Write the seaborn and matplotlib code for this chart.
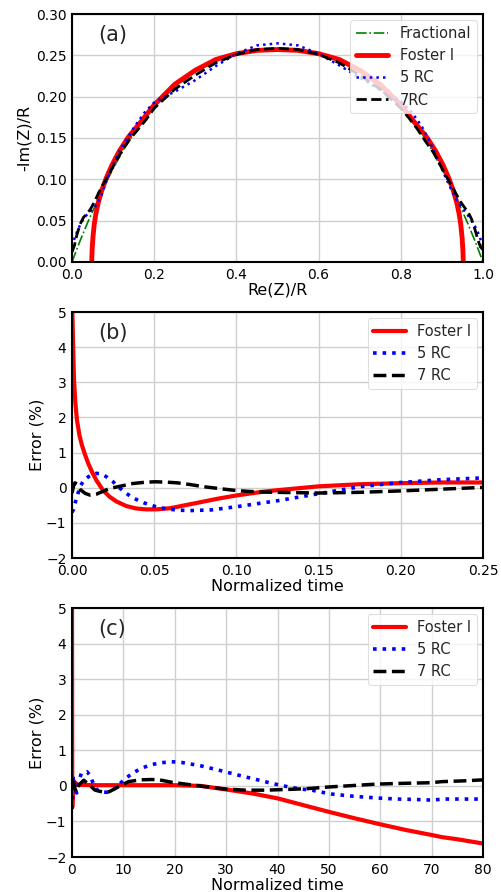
import matplotlib
matplotlib.use("Agg")
import matplotlib.pyplot as plt
import seaborn as sns
import pandas as pd

# ---------------- Panel (a): Nyquist -----------------
frac_x = [0.0, 0.01, 0.02, 0.03, 0.04, 0.05, 0.06, 0.08, 0.10, 0.13, 0.16, 0.20, 0.25, 0.30, 0.35, 0.40, 0.45,
          0.50, 0.55, 0.60, 0.65, 0.70, 0.75, 0.80, 0.84, 0.87, 0.90, 0.92, 0.94, 0.95, 0.96, 0.97, 0.98, 0.99, 1.0]
frac_y = [0.0, 0.013, 0.026, 0.038, 0.050, 0.061, 0.072, 0.093, 0.113, 0.140, 0.162, 0.188, 0.212, 0.230, 0.243, 0.252, 0.256,
          0.258, 0.256, 0.252, 0.243, 0.230, 0.212, 0.188, 0.162, 0.140, 0.113, 0.093, 0.072, 0.061, 0.050, 0.038, 0.026, 0.013, 0.0]

foster_x = [0.048, 0.049, 0.051, 0.054, 0.058, 0.064, 0.072, 0.083, 0.097, 0.115, 0.137, 0.165, 0.20, 0.25, 0.30, 0.35, 0.40, 0.45,
            0.50, 0.55, 0.60, 0.65, 0.70, 0.75, 0.80, 0.835, 0.863, 0.885, 0.903, 0.917, 0.928, 0.936, 0.942, 0.946, 0.949, 0.951, 0.952]
foster_y = [0.000, 0.015, 0.030, 0.045, 0.058, 0.072, 0.086, 0.101, 0.117, 0.134, 0.151, 0.168, 0.190, 0.215, 0.232, 0.245, 0.252, 0.256,
            0.257, 0.256, 0.252, 0.245, 0.232, 0.215, 0.190, 0.168, 0.151, 0.134, 0.117, 0.101, 0.086, 0.072, 0.058, 0.045, 0.030, 0.015, 0.000]

rc5_x = [0.0, 0.005, 0.011, 0.018, 0.024, 0.032, 0.042, 0.055, 0.065, 0.072, 0.08, 0.09, 0.10, 0.117, 0.135, 0.15, 0.175, 0.20,
         0.225, 0.25, 0.275, 0.30, 0.35, 0.40, 0.45, 0.50, 0.55, 0.60, 0.65, 0.70, 0.725, 0.75, 0.775, 0.80, 0.825, 0.85,
         0.87, 0.89, 0.91, 0.93, 0.945, 0.958, 0.968, 0.976, 0.984, 0.99, 0.995, 1.0]
rc5_y = [0.019, 0.027, 0.035, 0.043, 0.049, 0.055, 0.060, 0.066, 0.074, 0.081, 0.093, 0.106, 0.118, 0.135, 0.150, 0.162, 0.180, 0.193,
         0.200, 0.206, 0.213, 0.220, 0.237, 0.252, 0.262, 0.2645, 0.262, 0.252, 0.238, 0.223, 0.216, 0.208, 0.200, 0.194, 0.182, 0.165,
         0.146, 0.124, 0.101, 0.080, 0.068, 0.060, 0.053, 0.047, 0.040, 0.033, 0.026, 0.019]

rc7_x = [0.0, 0.006, 0.012, 0.02, 0.028, 0.036, 0.045, 0.055, 0.065, 0.078, 0.09, 0.105, 0.12, 0.14, 0.16, 0.18, 0.20,
         0.25, 0.30, 0.35, 0.40, 0.45, 0.50, 0.55, 0.60, 0.65, 0.70, 0.75, 0.80, 0.82, 0.84, 0.86, 0.88, 0.895, 0.91,
         0.922, 0.935, 0.945, 0.955, 0.964, 0.972, 0.98, 0.988, 0.994, 1.0]
rc7_y = [0.012, 0.020, 0.033, 0.046, 0.054, 0.058, 0.064, 0.073, 0.084, 0.096, 0.106, 0.120, 0.133, 0.148, 0.160, 0.172, 0.186,
         0.209, 0.226, 0.241, 0.251, 0.257, 0.2585, 0.257, 0.251, 0.241, 0.226, 0.209, 0.186, 0.174, 0.161, 0.146, 0.132, 0.118, 0.104,
         0.094, 0.082, 0.073, 0.066, 0.060, 0.052, 0.040, 0.026, 0.018, 0.015]

# ---------------- Panel (b): error, short time -----------------
b_foster_t = [0.0, 0.0006, 0.0012, 0.002, 0.003, 0.0045, 0.006, 0.008, 0.010, 0.0125,
              0.015, 0.019, 0.023, 0.027, 0.033, 0.039, 0.045, 0.0515, 0.06, 0.075,
              0.09, 0.10, 0.115, 0.125, 0.15, 0.175, 0.20, 0.225, 0.25]
b_foster_e = [5.5, 4.2, 3.1, 2.45, 1.93, 1.5, 1.22, 0.93, 0.68, 0.42,
              0.2, -0.08, -0.26, -0.39, -0.52, -0.59, -0.615, -0.615, -0.58, -0.44,
              -0.30, -0.22, -0.12, -0.07, 0.04, 0.10, 0.13, 0.15, 0.15]

b_rc5_t = [0.0, 0.0008, 0.002, 0.003, 0.0049, 0.007, 0.0099, 0.0125, 0.015, 0.018,
           0.021, 0.025, 0.028, 0.032, 0.036, 0.042, 0.0474, 0.0535, 0.0596, 0.066,
           0.072, 0.085, 0.10, 0.125, 0.15, 0.175, 0.20, 0.225, 0.25]
b_rc5_e = [-0.7, -0.63, -0.42, -0.26, 0.03, 0.20, 0.31, 0.38, 0.41, 0.39,
           0.31, 0.17, 0.03, -0.12, -0.26, -0.40, -0.49, -0.57, -0.615, -0.64,
           -0.65, -0.63, -0.54, -0.37, -0.17, 0.03, 0.15, 0.23, 0.28]

b_rc7_t = [0.0, 0.0004, 0.001, 0.0018, 0.003, 0.005, 0.008, 0.011, 0.015, 0.019,
           0.023, 0.03, 0.037, 0.044, 0.0505, 0.057, 0.064, 0.072, 0.080, 0.089,
           0.098, 0.106, 0.114, 0.125, 0.15, 0.175, 0.20, 0.225, 0.25]
b_rc7_e = [-0.15, -0.07, 0.06, 0.14, 0.10, -0.05, -0.16, -0.21, -0.18, -0.10,
           -0.02, 0.05, 0.12, 0.155, 0.17, 0.16, 0.14, 0.09, 0.03, -0.02,
           -0.07, -0.10, -0.12, -0.13, -0.15, -0.13, -0.09, -0.04, 0.01]

# ---------------- Panel (c): error, long time -----------------
c_foster_t = [0.0, 0.05, 0.25, 1, 5, 10, 15, 20, 25,
              30, 35, 40, 45, 50, 55, 60, 65, 70, 72, 75, 80]
c_foster_e = [5.5, -0.6, 0.15, 0.03, 0.02, 0.02, 0.02, 0.02, 0.0,
              -0.10, -0.21, -0.35, -0.54, -0.73, -0.91, -1.08, -1.24, -1.38, -1.44, -1.50, -1.62]

c_rc5_t = [0.0, 0.25, 0.5, 0.9, 1.3, 1.8, 2.4, 2.9, 3.5,
           4.0, 4.9, 5.8, 6.8, 7.7, 8.8, 10.0, 11.7, 13.3, 15.2,
           17.3, 19.4, 21.3, 23.3, 25.2, 27.2, 29.2, 31.1, 33.0, 35.0,
           37.0, 38.9, 40.9, 42.8, 44.7, 46.7, 48.7, 50.6, 52.6, 54.7,
           57.5, 60.5, 63.5, 66.4, 70.3, 72.0, 76.0, 80.0]
c_rc5_e = [-0.65, 0.28, -0.05, -0.2, 0.1, 0.35, 0.38, 0.40, 0.30,
           0.12, -0.12, -0.17, -0.18, -0.14, -0.02, 0.16, 0.35, 0.48, 0.59,
           0.65, 0.68, 0.66, 0.61, 0.56, 0.49, 0.42, 0.35, 0.28, 0.21,
           0.14, 0.07, 0.01, -0.05, -0.09, -0.12, -0.18, -0.23, -0.26, -0.29,
           -0.32, -0.35, -0.37, -0.38, -0.40, -0.37, -0.37, -0.37]

c_rc7_t = [0.0, 0.3, 0.8, 1.3, 2.3, 3.2, 4.5, 6.2, 7.3, 9.1,
           11.0, 13.3, 15.5, 17.0, 19.5, 22.1, 26.0, 29.9, 33.8, 37.7,
           41.6, 45.5, 50.0, 54.7, 59.2, 63.8, 69.9, 72.0, 76.0, 80.0]
c_rc7_e = [0.2, 0.05, -0.16, 0.02, 0.16, 0.05, -0.12, -0.18, -0.16, -0.02,
           0.12, 0.17, 0.18, 0.17, 0.10, 0.05, -0.02, -0.09, -0.12, -0.12,
           -0.10, -0.08, -0.03, 0.01, 0.05, 0.07, 0.09, 0.12, 0.14, 0.17]

# ---------------- Styling -----------------
sns.set_style("whitegrid")
plt.rcParams['font.family'] = ['DejaVu Sans']
plt.rcParams.update({
    "axes.edgecolor": "black",
    "axes.linewidth": 1.5,
    "grid.color": "#cfcfcf",
    "grid.linewidth": 1.0,
    "xtick.labelsize": 10,
    "ytick.labelsize": 10,
    "axes.labelsize": 11.5,
    "xtick.color": "black",
    "ytick.color": "black",
    "axes.labelcolor": "black",
})

fig = plt.figure(figsize=(5.01, 8.92), dpi=100)
ax_a = fig.add_axes([0.1437, 0.7063, 0.8204, 0.278])
ax_b = fig.add_axes([0.1437, 0.3744, 0.8204, 0.2758])
ax_c = fig.add_axes([0.1437, 0.0392, 0.8204, 0.2791])


def line(ax, x, y, **kw):
    df = pd.DataFrame({"x": x, "y": y})
    sns.lineplot(data=df, x="x", y="y", ax=ax, sort=False, estimator=None, **kw)


# (a)
line(ax_a, frac_x, frac_y, color="green", linestyle="-.", linewidth=1.2, label="Fractional")
line(ax_a, foster_x, foster_y, color="red", linestyle="-", linewidth=3.5, label="Foster I")
line(ax_a, rc5_x, rc5_y, color="blue", linestyle=":", linewidth=1.8, label="5 RC")
line(ax_a, rc7_x, rc7_y, color="black", linestyle="--", linewidth=2.0, label="7RC")
ax_a.set_xlim(0, 1.0)
ax_a.set_ylim(0, 0.30)
ax_a.set_xticks([0.0, 0.2, 0.4, 0.6, 0.8, 1.0])
ax_a.set_yticks([0.0, 0.05, 0.10, 0.15, 0.20, 0.25, 0.30])
ax_a.set_yticklabels(["0.00", "0.05", "0.10", "0.15", "0.20", "0.25", "0.30"])
ax_a.set_xlabel("Re(Z)/R", labelpad=1)
ax_a.set_ylabel("-Im(Z)/R", labelpad=3)

# (b)
line(ax_b, b_foster_t, b_foster_e, color="red", linestyle="-", linewidth=3.0, label="Foster I")
line(ax_b, b_rc5_t, b_rc5_e, color="blue", linestyle=":", linewidth=2.6, label="5 RC")
line(ax_b, b_rc7_t, b_rc7_e, color="black", linestyle="--", linewidth=2.5, label="7 RC")
ax_b.set_xlim(0, 0.25)
ax_b.set_ylim(-2, 5)
ax_b.set_xticks([0.0, 0.05, 0.10, 0.15, 0.20, 0.25])
ax_b.set_xticklabels(["0.00", "0.05", "0.10", "0.15", "0.20", "0.25"])
ax_b.set_yticks(range(-2, 6))
ax_b.set_xlabel("Normalized time", labelpad=1)
ax_b.set_ylabel("Error (%)", labelpad=1)

# (c)
line(ax_c, c_foster_t, c_foster_e, color="red", linestyle="-", linewidth=3.0, label="Foster I")
line(ax_c, c_rc5_t, c_rc5_e, color="blue", linestyle=":", linewidth=2.6, label="5 RC")
line(ax_c, c_rc7_t, c_rc7_e, color="black", linestyle="--", linewidth=2.5, label="7 RC")
ax_c.set_xlim(0, 80)
ax_c.set_ylim(-2, 5)
ax_c.set_xticks(range(0, 81, 10))
ax_c.set_yticks(range(-2, 6))
ax_c.set_xlabel("Normalized time", labelpad=1)
ax_c.set_ylabel("Error (%)", labelpad=1)

for ax, lab in zip([ax_a, ax_b, ax_c], ["(a)", "(b)", "(c)"]):
    ax.text(0.063, 0.915, lab, transform=ax.transAxes, fontsize=15, va="center", ha="left")
    ax.tick_params(axis="both", length=0, pad=4)
    for s in ax.spines.values():
        s.set_color("black")
        s.set_linewidth(1.5)
    ax.grid(True, color="#cfcfcf", linewidth=1.0)
    leg = ax.legend(loc="upper right", fontsize=10.5, frameon=True, framealpha=0.8,
                    edgecolor="#d8d8d8", fancybox=True, handlelength=2.2,
                    borderaxespad=0.4)
    leg.get_frame().set_linewidth(0.8)

fig.savefig("out.png", dpi=100)
